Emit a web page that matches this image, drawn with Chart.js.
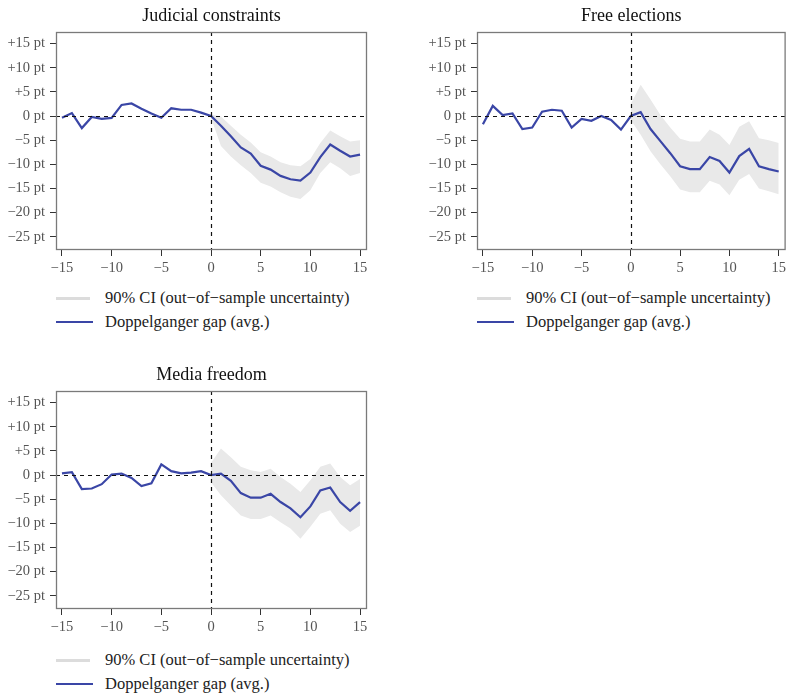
<!DOCTYPE html>
<html>
<head>
<meta charset="utf-8">
<script src="https://cdn.jsdelivr.net/npm/chart.js"></script>
<style>
  body { margin: 0; width: 789px; height: 693px; overflow: hidden; background: #fff; position: relative; font-family: "Liberation Serif", serif; }
  canvas { position: absolute; }
  .legend { position: absolute; font-size: 16.5px; color: #222; }
  .row { position: absolute; left: 0; white-space: nowrap; height: 20px; line-height: 20px; }
  .sw { position: absolute; left: 0; top: 50%; }
  .txt { position: absolute; left: 49px; top: 0; }
</style>
</head>
<body>
<canvas id="c1" width="375" height="280" style="left:0;top:0"></canvas>
<canvas id="c2" width="368" height="280" style="left:421px;top:0"></canvas>
<canvas id="c3" width="375" height="280" style="left:0;top:359px"></canvas>
<div id="l1" class="legend" style="left:56px;top:288px"></div>
<div id="l2" class="legend" style="left:477px;top:288px"></div>
<div id="l3" class="legend" style="left:56px;top:650px"></div>
<script>
// years relative to event
const years = [-15, -14, -13, -12, -11, -10, -9, -8, -7, -6, -5, -4, -3, -2, -1, 0, 1, 2, 3, 4, 5, 6, 7, 8, 9, 10, 11, 12, 13, 14, 15];
const postYears = [0, 1, 2, 3, 4, 5, 6, 7, 8, 9, 10, 11, 12, 13, 14, 15];
const yTicks = [-25, -20, -15, -10, -5, 0, 5, 10, 15];
const xTicks = [-15, -10, -5, 0, 5, 10, 15];

const titles = ["Judicial constraints", "Free elections", "Media freedom"];
const legendLabels = ["90% CI (out\u2212of\u2212sample uncertainty)", "Doppelganger gap (avg.)"];

// Judicial constraints
const judicialGap = [-0.35, 0.6, -2.5, -0.2, -0.6, -0.4, 2.3, 2.6, 1.5, 0.5, -0.35, 1.6, 1.3, 1.3, 0.7,
  0, -2.0, -4.2, -6.5, -7.8, -10.3, -11.1, -12.4, -13.1, -13.4, -11.7, -8.5, -5.9, -7.2, -8.4, -8.0];
const judicialUpper = [0.3, -0.1, -2.0, -3.9, -5.5, -7.5, -8.4, -9.6, -10.2, -10.4, -8.9, -5.6, -3.0, -4.2, -5.3, -5.0];
const judicialLower = [-0.3, -6.2, -8.4, -10.2, -11.8, -13.8, -14.6, -15.8, -16.7, -17.2, -15.4, -11.8, -9.6, -10.8, -12.4, -11.8];

// Free elections
const electionsGap = [-1.7, 2.1, 0.2, 0.55, -2.7, -2.4, 0.9, 1.3, 1.1, -2.4, -0.6, -1.0, 0, -0.8, -2.8,
  0, 0.8, -2.7, -5.2, -7.7, -10.4, -11.0, -11.0, -8.5, -9.3, -11.7, -8.3, -6.8, -10.4, -11.0, -11.5];
const electionsUpper = [2.5, 6.5, 3.4, 0.2, -2.4, -4.7, -5.3, -5.3, -2.8, -3.9, -6.0, -2.2, -1.1, -4.6, -5.0, -5.6];
const electionsLower = [-0.8, -3.9, -7.3, -10.0, -12.5, -15.2, -15.8, -15.8, -13.4, -14.2, -16.4, -13.2, -12.0, -15.0, -15.6, -16.2];

// Media freedom
const mediaGap = [0.35, 0.6, -2.9, -2.8, -1.9, 0.1, 0.3, -0.6, -2.3, -1.7, 2.2, 0.8, 0.35, 0.5, 0.8,
  0, 0.3, -1.2, -3.75, -4.7, -4.7, -3.9, -5.6, -6.9, -8.75, -6.5, -3.2, -2.6, -5.6, -7.4, -5.6];
const mediaUpper = [2.5, 5.5, 3.7, 1.7, 1.0, 0.6, 1.3, -0.4, -1.8, -3.5, -1.1, 1.7, 2.4, -0.4, -2.1, -0.8];
const mediaLower = [-1.5, -4.2, -6.3, -8.4, -9.1, -9.1, -8.4, -9.8, -11.1, -13.2, -10.7, -8.0, -7.3, -10.1, -11.8, -10.5];

const lineColor = "#3a46a6";
const bandColor = "#e9e9e9";
const minus = "\u2212";

// dashed zero lines, box and title
const framePlugin = {
  id: "frame",
  afterDatasetsDraw(chart, args, opts) {
    const { ctx, chartArea: a, scales: { x, y } } = chart;
    ctx.save();
    ctx.strokeStyle = "#111";
    ctx.lineWidth = 1.2;
    ctx.setLineDash([4, 4]);
    const y0 = Math.round(y.getPixelForValue(0)) + 0.5;
    const x0 = Math.round(x.getPixelForValue(0)) + 0.5;
    ctx.beginPath();
    ctx.moveTo(a.left, y0); ctx.lineTo(a.right, y0);
    ctx.moveTo(x0, a.top); ctx.lineTo(x0, a.bottom);
    ctx.stroke();
    ctx.setLineDash([]);
    ctx.strokeStyle = "#7a7a7a";
    ctx.lineWidth = 1.3;
    ctx.strokeRect(a.left + 0.5, a.top + 0.5, a.width - 1, a.height - 1);
    ctx.fillStyle = "#111";
    ctx.font = '18px "Liberation Serif"';
    ctx.textAlign = "center";
    ctx.textBaseline = "middle";
    ctx.fillText(opts.text, (a.left + a.right) / 2, 16);
    ctx.restore();
  }
};

function fmtY(v) {
  if (v > 0) return "+" + v + " pt";
  if (v < 0) return minus + Math.abs(v) + " pt";
  return "0 pt";
}

function makePanel(id, title, gap, upper, lower, padRight) {
  const tickFont = { family: "Liberation Serif", size: 14.5 };
  return new Chart(document.getElementById(id), {
    type: "line",
    data: {
      datasets: [
        {
          label: legendLabels[1],
          data: years.map((x, i) => ({ x: x, y: gap[i] })),
          borderColor: lineColor,
          borderWidth: 2.2,
          pointRadius: 0,
          fill: false,
          tension: 0
        },
        {
          label: legendLabels[0],
          data: postYears.map((x, i) => ({ x: x, y: upper[i] })),
          borderWidth: 0,
          borderColor: "rgba(0,0,0,0)",
          backgroundColor: bandColor,
          pointRadius: 0,
          fill: "+1"
        },
        {
          label: "lower",
          data: postYears.map((x, i) => ({ x: x, y: lower[i] })),
          borderWidth: 0,
          borderColor: "rgba(0,0,0,0)",
          pointRadius: 0,
          fill: false
        }
      ]
    },
    options: {
      responsive: false,
      animation: false,
      layout: { padding: { top: 32, right: padRight, left: 0, bottom: 0 } },
      plugins: {
        legend: { display: false },
        tooltip: { enabled: false },
        frame: { text: title }
      },
      scales: {
        x: {
          type: "linear",
          min: -15.6,
          max: 15.7,
          afterBuildTicks: (s) => { s.ticks = xTicks.map((v) => ({ value: v })); },
          afterFit: (s) => { s.height = 30; },
          grid: { drawOnChartArea: false, tickLength: 6, tickColor: "#333" },
          border: { display: false },
          ticks: {
            color: "#555",
            font: tickFont,
            padding: 3,
            maxRotation: 0,
            callback: (v) => (v < 0 ? minus + Math.abs(v) : String(v))
          }
        },
        y: {
          min: -27.75,
          max: 17.4,
          afterBuildTicks: (s) => { s.ticks = yTicks.map((v) => ({ value: v })); },
          afterFit: (s) => { s.width = 56; },
          grid: { drawOnChartArea: false, tickLength: 6, tickColor: "#333" },
          border: { display: false },
          ticks: { color: "#555", font: tickFont, padding: 5, callback: fmtY }
        }
      }
    },
    plugins: [framePlugin]
  });
}

function makeLegend(id) {
  const box = document.getElementById(id);
  box.innerHTML = `
    <div class="row" style="top:0">
      <span class="sw" style="width:34px;height:3px;margin-top:-1px;background:#dcdcdc"></span>
      <span class="txt">${legendLabels[0]}</span>
    </div>
    <div class="row" style="top:24px">
      <span class="sw" style="width:37px;height:2px;margin-top:-1px;background:${lineColor}"></span>
      <span class="txt">${legendLabels[1]}</span>
    </div>`;
}

makePanel("c1", titles[0], judicialGap, judicialUpper, judicialLower, 8);
makePanel("c2", titles[1], electionsGap, electionsUpper, electionsLower, 2);
makePanel("c3", titles[2], mediaGap, mediaUpper, mediaLower, 8);
makeLegend("l1");
makeLegend("l2");
makeLegend("l3");
</script>
</body>
</html>
